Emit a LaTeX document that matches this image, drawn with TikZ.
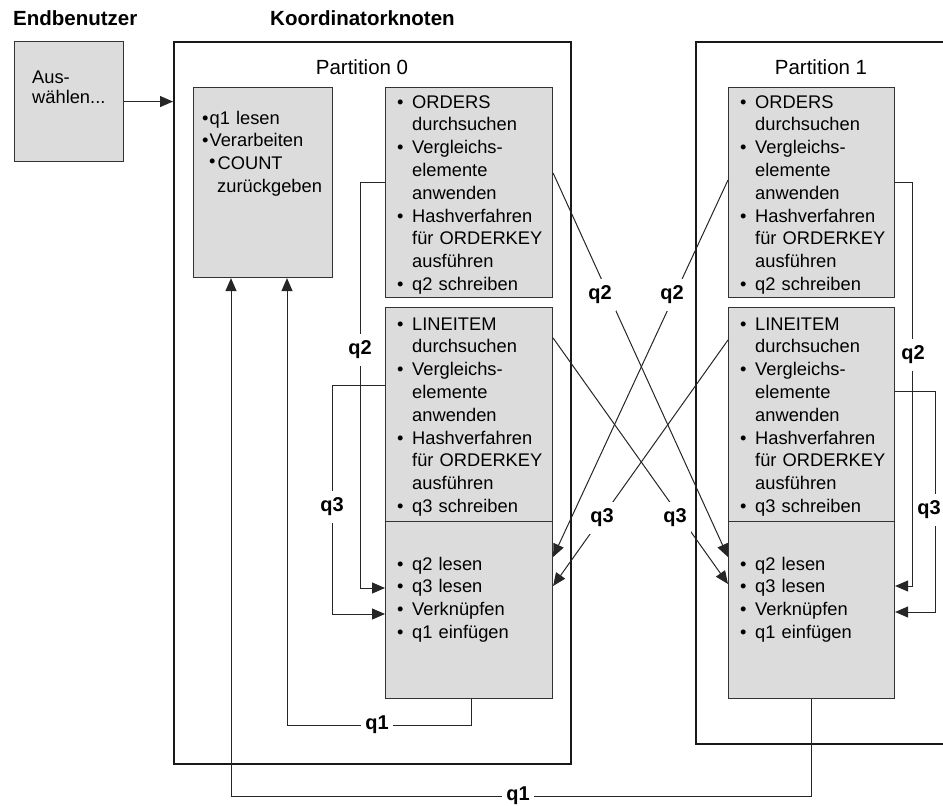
\documentclass[tikz,border=0pt]{standalone}
\usepackage{fontspec}
\setmainfont{Liberation Sans}
\usetikzlibrary{arrows.meta}
\definecolor{boxgray}{HTML}{DCDCDC}
\newcommand{\bodyfont}{\fontsize{18.3}{22.8}\selectfont}
\newcommand{\bpt}{\makebox[15pt][l]{\textbullet}}
\newcommand{\bind}{\hspace*{15pt}}

\begin{document}
\begin{tikzpicture}[x=1pt,y=-1pt,
	part box/.style={draw=black!90, line width=2pt, anchor=north west, inner sep=0pt},
	task box/.style={draw=black!80, line width=1.1pt, fill=boxgray, anchor=north west, inner sep=0pt},
	box text/.style={font=\bodyfont, text width=160pt, align=left, anchor=north west, inner sep=0pt},
	head text/.style={font=\fontsize{20.5}{24}\selectfont\bfseries, anchor=base west, inner sep=0pt},
	title text/.style={font=\fontsize{20.5}{24}\selectfont, anchor=base, inner sep=0pt},
	flow/.style={line width=1pt, draw=black!85},
	arr/.style={flow, -{Triangle[length=13pt,width=11pt]}},
	q label/.style={font=\fontsize{20}{24}\selectfont\bfseries, fill=white, inner xsep=4pt, inner ysep=7pt}]
	
	\clip (0,0) rectangle (943,806);
	\node[head text] (eb) at (13,25) {Endbenutzer};
	\node[head text] (kk) at (270,25) {Koordinatorknoten};
	\node[task box, minimum width=109pt, minimum height=120pt] (us) at (14,41) {};
	\node[box text, font=\fontsize{18.3}{20}\selectfont] (ust) at (32,69) {\strut Aus-\\wählen...};
	\node[part box, minimum width=397pt, minimum height=722pt] (p0) at (173,41) {};
	\node[part box, minimum width=290pt, minimum height=702pt] (p1) at (695,41) {};
	\node[title text] (p0t) at (362,74) {Partition 0};
	\node[title text] (p1t) at (821,74) {Partition 1};
	
	\node[task box, minimum width=139pt, minimum height=190pt] (kb) at (193,87) {};
	\node[box text] (kbt) at (202,108) {\strut\textbullet\hspace{1pt}q1 lesen\\
		\textbullet\hspace{1pt}Verarbeiten\\
		\hspace*{7pt}\raisebox{2pt}{\textbullet}\hspace{2pt}COUNT\\
		\hspace*{15pt}zurückgeben};
	
	\node[task box, minimum width=167pt, minimum height=210pt] (o0) at (385,87) {};
	\node[task box, minimum width=167pt, minimum height=214pt] (l0) at (385,307) {};
	\node[task box, minimum width=167pt, minimum height=177pt] (r0) at (385,521) {};
	\node[box text] (o0t) at (397,92) {\strut\bpt ORDERS\\\bind durchsuchen\\\bpt Vergleichs-\\\bind elemente\\\bind anwenden\\\bpt Hashverfahren\\\bind für ORDERKEY\\\bind ausführen\\\bpt q2 schreiben};
	\node[box text] (l0t) at (397,314) {\strut\bpt LINEITEM\\\bind durchsuchen\\\bpt Vergleichs-\\\bind elemente\\\bind anwenden\\\bpt Hashverfahren\\\bind für ORDERKEY\\\bind ausführen\\\bpt q3 schreiben};
	\node[box text] (r0t) at (397,554) {\strut\bpt q2 lesen\\\bpt q3 lesen\\\bpt Verknüpfen\\\bpt q1 einfügen};
	
	\node[task box, minimum width=166pt, minimum height=210pt] (o1) at (728,87) {};
	\node[task box, minimum width=166pt, minimum height=214pt] (l1) at (728,307) {};
	\node[task box, minimum width=166pt, minimum height=177pt] (r1) at (728,521) {};
	\node[box text] (o1t) at (740,92) {\strut\bpt ORDERS\\\bind durchsuchen\\\bpt Vergleichs-\\\bind elemente\\\bind anwenden\\\bpt Hashverfahren\\\bind für ORDERKEY\\\bind ausführen\\\bpt q2 schreiben};
	\node[box text] (l1t) at (740,314) {\strut\bpt LINEITEM\\\bind durchsuchen\\\bpt Vergleichs-\\\bind elemente\\\bind anwenden\\\bpt Hashverfahren\\\bind für ORDERKEY\\\bind ausführen\\\bpt q3 schreiben};
	\node[box text] (r1t) at (740,554) {\strut\bpt q2 lesen\\\bpt q3 lesen\\\bpt Verknüpfen\\\bpt q1 einfügen};
	
	\draw[arr] (us.east) -- (us.east -| p0.west);
	\draw[arr] (o0.west |- 0,182) -- (360,182) -- (360,588) -- (r0.west |- 0,588);
	\draw[arr] (l0.west |- 0,385) -- (332,385) -- (332,614) -- (r0.west |- 0,614);
	\draw[arr] (r0.south -| 471,0) -- (471,725) -- (287,725) -- (kb.south -| 287,0);
	\draw[arr] (r1.south) -- (r1.south |- 0,796) -- (231,796) -- (kb.south -| 231,0);
	\draw[arr] (o0.east |- 0,173) -- (r1.west |- 0,557);
	\draw[arr] (l0.east |- 0,338) -- (r1.west |- 0,584);
	\draw[arr] (o1.west |- 0,180) -- (r0.east |- 0,557);
	\draw[arr] (l1.west |- 0,340) -- (r0.east |- 0,586);
	\draw[arr] (o1.east |- 0,182) -- (912,182) -- (912,586) -- (r1.east |- 0,586);
	\draw[arr] (l1.east |- 0,391) -- (935,391) -- (935,612) -- (r1.east |- 0,612);
	
	\node[q label] (q2a) at (360,350) {q2};
	\node[q label] (q3a) at (332,507) {q3};
	\node[q label] (q1a) at (377,725) {q1};
	\node[q label] (q1b) at (518,796) {q1};
	\node[q label] (q2b) at (600,295) {q2};
	\node[q label] (q3b) at (675,518) {q3};
	\node[q label] (q2c) at (672,295) {q2};
	\node[q label] (q3c) at (602,518) {q3};
	\node[q label] (q2d) at (913,355) {q2};
	\node[q label, inner xsep=2pt] (q3d) at (929,510) {q3};
\end{tikzpicture}
\end{document}
